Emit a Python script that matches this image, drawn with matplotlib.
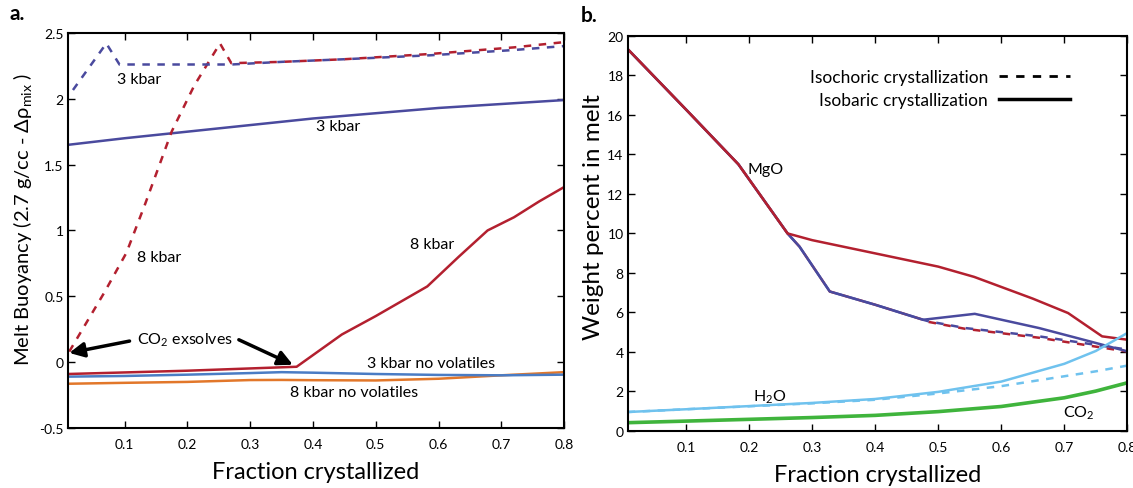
import numpy as np
import matplotlib
matplotlib.use('Agg')
from matplotlib import pyplot as plt
from matplotlib.lines import Line2D
from matplotlib.ticker import FormatStrFormatter

plt.rcParams['font.family'] = ['Lato', 'DejaVu Sans']
plt.rcParams['mathtext.fontset'] = 'custom'
plt.rcParams['mathtext.rm'] = 'Lato'
plt.rcParams['mathtext.it'] = 'Lato:italic'

# colours
RED = '#b3202f'
PURPLE = '#4a4a9e'
BLUE = '#4a7cc4'
ORANGE = '#e2772a'
LIGHTBLUE = '#6fc2ee'
GREEN = '#3fb43c'

# ---------------- panel a : melt buoyancy ----------------
x_3kb_iso = [0.011, 0.071, 0.092, 0.227, 0.27, 0.35, 0.45, 0.587, 0.72, 0.8]
y_3kb_iso = [2.02, 2.42, 2.26, 2.26, 2.26, 2.28, 2.30, 2.33, 2.37, 2.40]

x_8kb_iso = [0.012, 0.068, 0.103, 0.132, 0.175, 0.211, 0.252, 0.27, 0.35, 0.45, 0.587, 0.72, 0.8]
y_8kb_iso = [0.08, 0.53, 0.83, 1.19, 1.75, 2.10, 2.42, 2.27, 2.28, 2.30, 2.34, 2.39, 2.43]

x_3kb_bar = [0.01, 0.1, 0.2, 0.3, 0.4, 0.5, 0.6, 0.7, 0.8]
y_3kb_bar = [1.65, 1.70, 1.75, 1.80, 1.85, 1.89, 1.93, 1.96, 1.99]

x_8kb_bar = [0.01, 0.2, 0.374, 0.446, 0.5, 0.582, 0.632, 0.678, 0.72, 0.76, 0.8]
y_8kb_bar = [-0.09, -0.065, -0.035, 0.21, 0.35, 0.575, 0.80, 1.00, 1.10, 1.22, 1.33]

x_novol = [0.01, 0.1, 0.2, 0.3, 0.35, 0.4, 0.5, 0.6, 0.7, 0.8]
y_3kb_novol = [-0.11, -0.105, -0.095, -0.083, -0.076, -0.08, -0.09, -0.097, -0.10, -0.095]
y_8kb_novol = [-0.164, -0.157, -0.15, -0.136, -0.135, -0.137, -0.139, -0.126, -0.10, -0.076]

# ---------------- panel b : melt composition ----------------
x_mgo_bar8 = [0.0074, 0.103, 0.183, 0.261, 0.3, 0.4, 0.5, 0.557, 0.65, 0.706, 0.76, 0.8]
y_mgo_bar8 = [19.33, 16.17, 13.5, 10.0, 9.66, 8.99, 8.32, 7.8, 6.7, 5.97, 4.79, 4.62]

x_mgo_bar3 = [0.0074, 0.103, 0.183, 0.261, 0.28, 0.328, 0.4, 0.476, 0.558, 0.66, 0.74, 0.8]
y_mgo_bar3 = [19.33, 16.17, 13.5, 10.0, 9.33, 7.06, 6.39, 5.63, 5.93, 5.21, 4.54, 4.03]

x_mgo_iso = [0.0074, 0.103, 0.183, 0.261, 0.28, 0.328, 0.4, 0.476, 0.485, 0.543, 0.66, 0.8]
y_mgo_iso3 = [19.33, 16.17, 13.5, 10.0, 9.33, 7.06, 6.39, 5.63, 5.55, 5.21, 4.79, 4.12]
y_mgo_iso8 = [19.33, 16.17, 13.5, 10.0, 9.33, 7.06, 6.39, 5.63, 5.52, 5.17, 4.72, 4.02]

x_vol = [0.0074, 0.1, 0.2, 0.3, 0.4, 0.5, 0.6, 0.7, 0.75, 0.8]
y_h2o_bar = [0.96, 1.10, 1.26, 1.42, 1.62, 1.98, 2.5, 3.4, 4.05, 4.96]
y_h2o_iso = [0.96, 1.10, 1.25, 1.40, 1.58, 1.90, 2.27, 2.77, 3.02, 3.31]
y_co2 = [0.42, 0.50, 0.59, 0.68, 0.79, 0.98, 1.24, 1.68, 2.02, 2.44]

fig = plt.figure(figsize=(11.33, 4.89), dpi=100)
ax1 = fig.add_axes([0.060, 0.1227, 0.438, 0.808])
ax2 = fig.add_axes([0.554, 0.1166, 0.441, 0.808])

lw = 1.8
ax1.plot(x_3kb_bar, y_3kb_bar, color=PURPLE, lw=lw)
ax1.plot(x_8kb_iso, y_8kb_iso, color=RED, lw=lw, ls=(0, (3, 3)))
ax1.plot(x_3kb_iso, y_3kb_iso, color=PURPLE, lw=lw, ls=(3, (3, 3)))
ax1.plot(x_novol, y_8kb_novol, color=ORANGE, lw=lw)
ax1.plot(x_novol, y_3kb_novol, color=BLUE, lw=lw)
ax1.plot(x_8kb_bar, y_8kb_bar, color=RED, lw=lw)

ax1.set_xlim(0.01, 0.8)
ax1.set_ylim(-0.5, 2.5)
ax1.set_xticks([0.1, 0.2, 0.3, 0.4, 0.5, 0.6, 0.7, 0.8])
ax1.set_yticks([-0.5, 0, 0.5, 1, 1.5, 2, 2.5])
ax1.yaxis.set_major_formatter(FormatStrFormatter('%g'))
ax1.xaxis.set_major_formatter(FormatStrFormatter('%g'))
ax1.set_xlabel('Fraction crystallized', fontsize=17, labelpad=8)
ax1.set_ylabel('Melt Buoyancy (2.7 g/cc - Δρ$_{\\mathrm{mix}}$ )', fontsize=14.5)
ax1.yaxis.set_label_coords(-0.068, 0.53)

tf = 11.5
ax1.text(0.124, 2.15, '3 kbar', fontsize=tf, ha='center', va='center')
ax1.text(0.44, 1.79, '3 kbar', fontsize=tf, ha='center', va='center')
ax1.text(0.59, 0.90, '8 kbar', fontsize=tf, ha='center', va='center')
ax1.text(0.155, 0.80, '8 kbar', fontsize=tf, ha='center', va='center')
ax1.text(0.588, -0.005, '3 kbar no volatiles', fontsize=tf, ha='center', va='center')
ax1.text(0.466, -0.227, '8 kbar no volatiles', fontsize=tf, ha='center', va='center')
ax1.text(0.197, 0.175, 'CO$_2$ exsolves', fontsize=tf, ha='center', va='center')
ap = dict(arrowstyle='-|>', color='k', lw=2.5, mutation_scale=22, shrinkA=0, shrinkB=0)
ax1.annotate('', xy=(0.012, 0.07), xytext=(0.108, 0.16), arrowprops=ap)
ax1.annotate('', xy=(0.368, -0.02), xytext=(0.282, 0.17), arrowprops=ap)

# panel b
ax2.plot(x_mgo_iso, y_mgo_iso8, color=RED, lw=lw, ls=(0, (3, 3)))
ax2.plot(x_mgo_iso, y_mgo_iso3, color=PURPLE, lw=lw, ls=(3, (3, 3)))
ax2.plot(x_mgo_bar3, y_mgo_bar3, color=PURPLE, lw=lw)
ax2.plot(x_mgo_bar8, y_mgo_bar8, color=RED, lw=lw)
ax2.plot(x_vol, y_h2o_iso, color=LIGHTBLUE, lw=lw, ls=(0, (3, 3)))
ax2.plot(x_vol, y_h2o_bar, color=LIGHTBLUE, lw=lw)
ax2.plot(x_vol, y_co2, color=GREEN, lw=2.6)

ax2.set_xlim(0.0074, 0.8)
ax2.set_ylim(0, 20)
ax2.set_xticks([0.1, 0.2, 0.3, 0.4, 0.5, 0.6, 0.7, 0.8])
ax2.set_yticks(range(0, 21, 2))
ax2.xaxis.set_major_formatter(FormatStrFormatter('%g'))
ax2.set_xlabel('Fraction crystallized', fontsize=17, labelpad=8)
ax2.set_ylabel('Weight percent in melt', fontsize=17.5)
ax2.yaxis.set_label_coords(-0.048, 0.545)

ax2.text(0.226, 13.25, 'MgO', fontsize=tf, ha='center', va='center')
ax2.text(0.232, 1.76, 'H$_2$O', fontsize=tf, ha='center', va='center')
ax2.text(0.723, 0.96, 'CO$_2$', fontsize=tf, ha='center', va='center')

handles = [Line2D([], [], color='k', lw=2, ls=(0, (3, 3))), Line2D([], [], color='k', lw=2.5)]
ax2.legend(handles, ['Isochoric crystallization', 'Isobaric crystallization'],
           markerfirst=False, frameon=False, fontsize=12.5, handlelength=4.1,
           handletextpad=0.6, loc='upper right', bbox_to_anchor=(0.916, 0.955),
           labelspacing=0.4)

for ax in (ax1, ax2):
    ax.tick_params(direction='in', top=True, right=True, length=5, width=1, labelsize=10)
    ax.tick_params(axis='x', pad=7)
    ax.tick_params(axis='y', pad=3)
    for s in ax.spines.values():
        s.set_linewidth(1.5)

fig.text(0.008, 0.96, 'a.', fontsize=15, fontweight='bold')
fig.text(0.513, 0.955, 'b.', fontsize=15, fontweight='bold')

fig.savefig('out.png', dpi=100)
